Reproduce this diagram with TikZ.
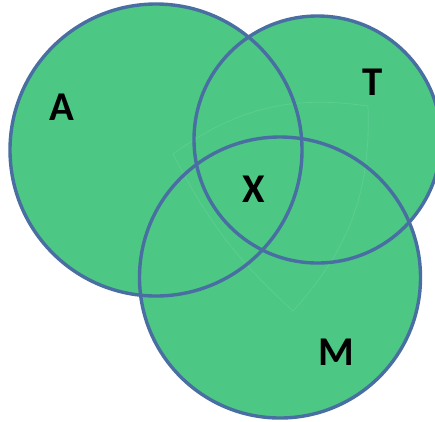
\documentclass[tikz,border=0pt]{standalone}
\usepackage{fontspec}
\setmainfont{Carlito}
\definecolor{vfill}{RGB}{77,200,132}
\definecolor{vline}{RGB}{72,110,162}
\definecolor{vfaint}{RGB}{92,206,145}
\begin{document}
\begin{tikzpicture}[x=1bp,y=-1bp,
  setfill/.style={fill=vfill,draw=none},
  setline/.style={draw=vline,line width=3.4bp},
  setlabel/.style={font=\fontsize{41}{48}\selectfont\bfseries,text=black,inner sep=0pt},
  faint/.style={draw=vfaint,line width=0.7bp}]
\useasboundingbox (0,0) rectangle (435,421);
\begin{scope}
\clip (0,0) rectangle (435,421);
\fill[setfill] (156,150) circle (146);
\fill[setfill] (317.5,139.5) circle (123.5);
\fill[setfill] (280,277.5) circle (140.5);
\coordinate (p1) at (173,154);
\coordinate (p2) at (368,106);
\coordinate (p3) at (293,311);
\draw[faint] (p1) to[bend left=22] (p2) to[bend left=22] (p3) to[bend left=10] (p1);
\draw[setline] (156,150) circle (146);
\draw[setline] (317.5,139.5) circle (123.5);
\draw[setline] (280,277.5) circle (140.5);
\end{scope}
\node[setlabel] (A) at (62,107) {A};
\node[setlabel] (T) at (373,82) {T};
\node[setlabel] (X) at (254,189) {X};
\node[setlabel] (M) at (336,352) {M};
\end{tikzpicture}
\end{document}
